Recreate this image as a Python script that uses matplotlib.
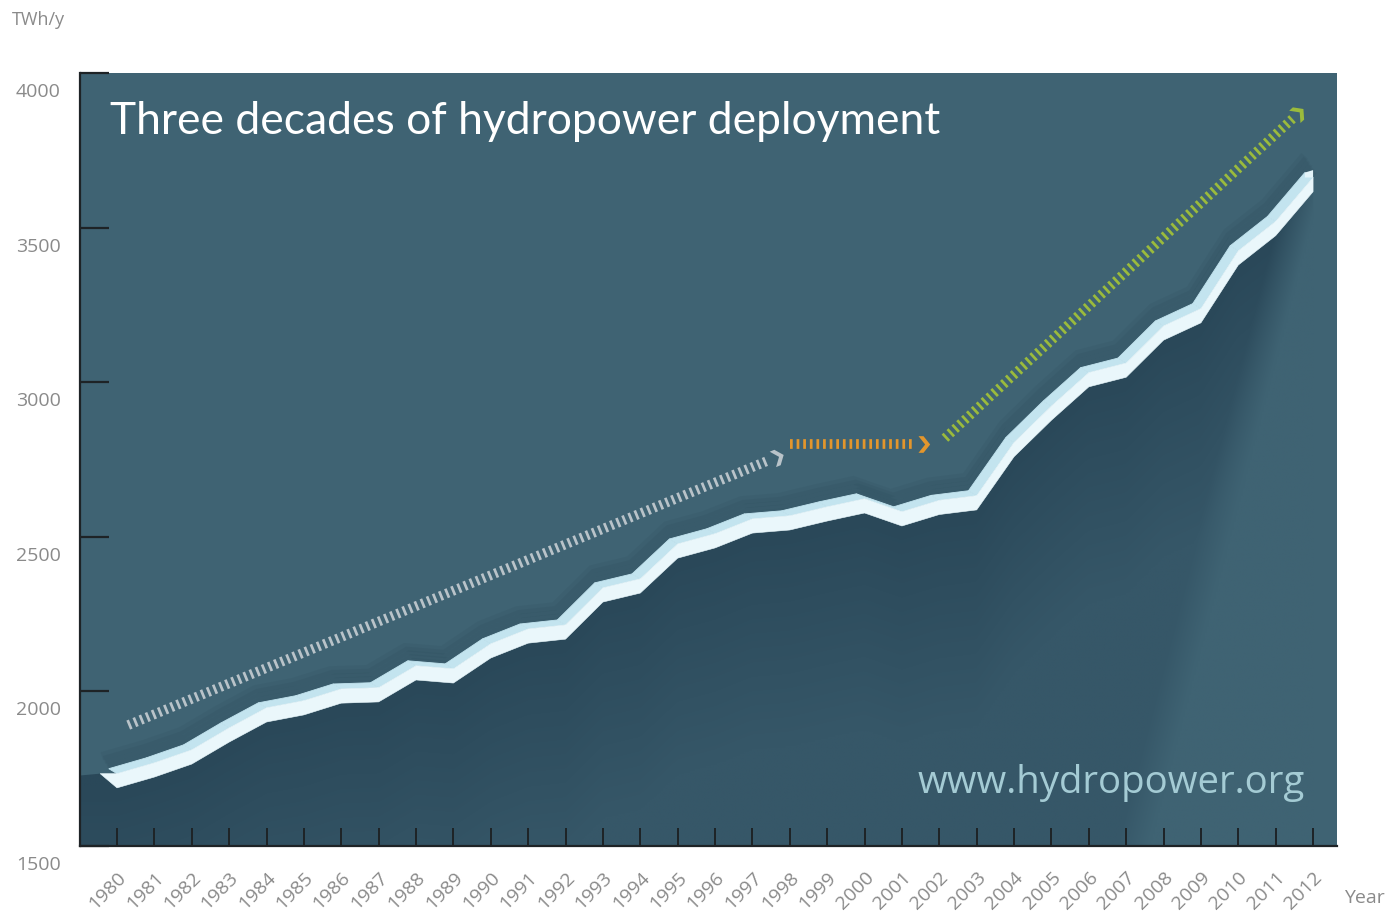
import matplotlib
matplotlib.use('Agg')
import matplotlib.pyplot as plt
import numpy as np
from matplotlib import font_manager
from matplotlib.patches import Polygon
from matplotlib.markers import MarkerStyle
from matplotlib.path import Path
from matplotlib.transforms import Affine2D, ScaledTranslation

# --- datos (TWh/y) ---
years = list(range(1980, 2013))
generation = [1688, 1723, 1765, 1836, 1901, 1924, 1962, 1966, 2037, 2027,
              2108, 2156, 2169, 2289, 2318, 2431, 2464, 2512, 2522, 2551,
              2577, 2535, 2572, 2587, 2759, 2877, 2985, 3016, 3136, 3192,
              3379, 3474, 3616]
y_ticks = [1500, 2000, 2500, 3000, 3500, 4000]
year_labels = [str(y) for y in years]

# flechas de tendencia: (x0, y0, x1, y1, color)
trend_gray = (1980.3, 1891, 1997.45, 2748, '#b9c3c9')
trend_orange = (1998.0, 2800, 2001.35, 2800, '#e3962c')
trend_green = (2002.15, 2819, 2011.45, 3852, '#9bbb3c')

title = 'Three decades of hydropower deployment'
watermark = 'www.hydropower.org'

names = {f.name for f in font_manager.fontManager.ttflist}
tick_font = 'Liberation Sans Narrow' if 'Liberation Sans Narrow' in names else 'Open Sans'
tick_size = 16 if tick_font == 'Liberation Sans Narrow' else 14

W, H = 1391, 923
fig = plt.figure(figsize=(W / 100, H / 100), dpi=100)
fig.patch.set_facecolor('white')
ax = fig.add_axes([80 / W, (H - 846) / H, 1257 / W, 773 / H])
bg = '#3f6373'
ax.set_facecolor(bg)
xmin, xmax = 1979.01, 2012.64
ax.set_xlim(xmin, xmax)
ax.set_ylim(1500, 4000)

x = np.array(years, float)
v = np.array(generation, float)

# --- sombra oscura bajo la curva (gradiente) ---
xs = np.linspace(xmin, xmax, 700)
ys = np.linspace(1500, 4000, 500)
X, Y = np.meshgrid(xs, ys)
line = np.interp(xs, x, v)
depth = np.clip((line[None, :] - Y) / 700.0, 0, 1)[..., None]
c_dark = np.array([42, 72, 89]) / 255
c_mid = np.array([54, 87, 104]) / 255
c_bg = np.array([63, 99, 115]) / 255
img = c_dark + (c_mid - c_dark) * depth
xb = 2007.2 + (Y - 1500) / 2050.0 * (2011.6 - 2007.2)
wedge = np.clip((X - xb) / 0.9 + 0.5, 0, 1)[..., None]
img = img * (1 - wedge) + c_bg * wedge
im = ax.imshow(img, extent=[xmin, xmax, 1500, 4000], origin='lower',
               aspect='auto', interpolation='bilinear', zorder=1)
area = [(xmin, 1500), (xmin, v[0] + 40), (x[0] - 0.45, v[0] + 46)] + \
    list(zip(x, v)) + [(x[-1], 1500)]
clip = Polygon(area, closed=True, transform=ax.transData)
im.set_clip_path(clip)

# --- cinta 3D ---
thick = 46
dx, dy = 0.22, 16
top = v + thick
for k in range(1, 6):
    ax.plot(x - 0.06 * k, top + 12 * k, color='#1a3442', lw=6, alpha=0.07,
            solid_joinstyle='miter', zorder=3)
for i in range(len(x) - 1):
    quad = [(x[i], top[i]), (x[i + 1], top[i + 1]),
            (x[i + 1] - dx, top[i + 1] + dy), (x[i] - dx, top[i] + dy)]
    ax.add_patch(Polygon(quad, closed=True, fc='#c3e4ef', ec='#c3e4ef',
                         lw=0.6, zorder=4))
ax.add_patch(Polygon([(x[-1], top[-1]), (x[-1], top[-1] + dy + 8),
                      (x[-1] - dx, top[-1] + dy), (x[-1] - dx, top[-1])],
                     closed=True, fc='#e4f4f9', ec='none', zorder=4))
front = [(x[0] - 0.45, top[0])] + list(zip(x, v)) + list(zip(x[::-1], top[::-1]))
ax.add_patch(Polygon(front, closed=True, fc='#eaf7fb', ec='#eaf7fb', lw=0.4,
                     zorder=5))

# --- flechas punteadas ---
fig.canvas.draw()
chev = Path([(-0.6, 1.0), (0.0, 1.0), (0.8, 0.0), (0.0, -1.0), (-0.6, -1.0),
             (0.2, 0.0), (-0.6, 1.0)],
            [Path.MOVETO] + [Path.LINETO] * 5 + [Path.CLOSEPOLY])
for x0, y0, x1, y1, col in (trend_gray, trend_orange, trend_green):
    ax.plot([x0, x1], [y0, y1], color=col, lw=7, dashes=(0.28, 0.4),
            dash_capstyle='butt', zorder=6)
    p0 = ax.transData.transform((x0, y0))
    p1 = ax.transData.transform((x1, y1))
    ang = np.degrees(np.arctan2(p1[1] - p0[1], p1[0] - p0[0]))
    d = (p1 - p0) / np.hypot(*(p1 - p0))
    tip = ax.transData.inverted().transform(p1 + d * 8)
    ax.plot([tip[0]], [tip[1]], ls='none', color=col, ms=12, mec='none',
            marker=MarkerStyle(chev, transform=Affine2D().rotate_deg(ang)),
            zorder=7)

# --- ejes ---
for s in ('top', 'right'):
    ax.spines[s].set_visible(False)
for s in ('left', 'bottom'):
    ax.spines[s].set_color('#1e2326')
    ax.spines[s].set_linewidth(1.6)
    ax.spines[s].set_zorder(8)

ax.set_yticks(y_ticks)
ax.set_yticklabels([str(t) for t in y_ticks])
ax.set_xticks(years)
ax.set_xticklabels(year_labels)
ax.tick_params(axis='y', direction='in', length=21, width=1.6, color='#1e2326',
               pad=14, labelsize=tick_size, labelcolor='#8a8a8a')
ax.tick_params(axis='x', direction='in', length=13, width=1.4, color='#1e2326',
               pad=16, labelsize=tick_size, labelcolor='#8a8a8a')
off = ScaledTranslation(0, -0.17, fig.dpi_scale_trans)
for lab in ax.get_yticklabels():
    lab.set_fontfamily(tick_font)
    lab.set_transform(lab.get_transform() + off)
for lab in ax.get_xticklabels():
    lab.set_fontfamily(tick_font)
    lab.set_rotation(45)
    lab.set_ha('right')
    lab.set_va('top')
    lab.set_rotation_mode('anchor')

fig.text(12 / W, 1 - 20 / H, 'TWh/y', color='#8a8a8a', fontsize=tick_size - 1,
         family=tick_font, ha='left', va='center')
fig.text(1344 / W, 1 - 898 / H, 'Year', color='#8a8a8a', fontsize=tick_size,
         family=tick_font, ha='left', va='center')

t = ax.text((110 - 80) / 1257, 1 - (134 - 73) / 773, title,
            transform=ax.transAxes, color='white', fontsize=30, family='Lato',
            ha='left', va='baseline', zorder=9)
wm = ax.text((1305 - 80) / 1257, 1 - (793 - 73) / 773, watermark,
             transform=ax.transAxes, color='#a4cbd4', fontsize=28,
             family='Open Sans', ha='right', va='baseline', zorder=9)
fig.canvas.draw()
t.set_fontsize(30 * 830 / t.get_window_extent().width)
wm.set_fontsize(28 * 387 / wm.get_window_extent().width)

fig.savefig('out.png', dpi=100)
plt.close(fig)
